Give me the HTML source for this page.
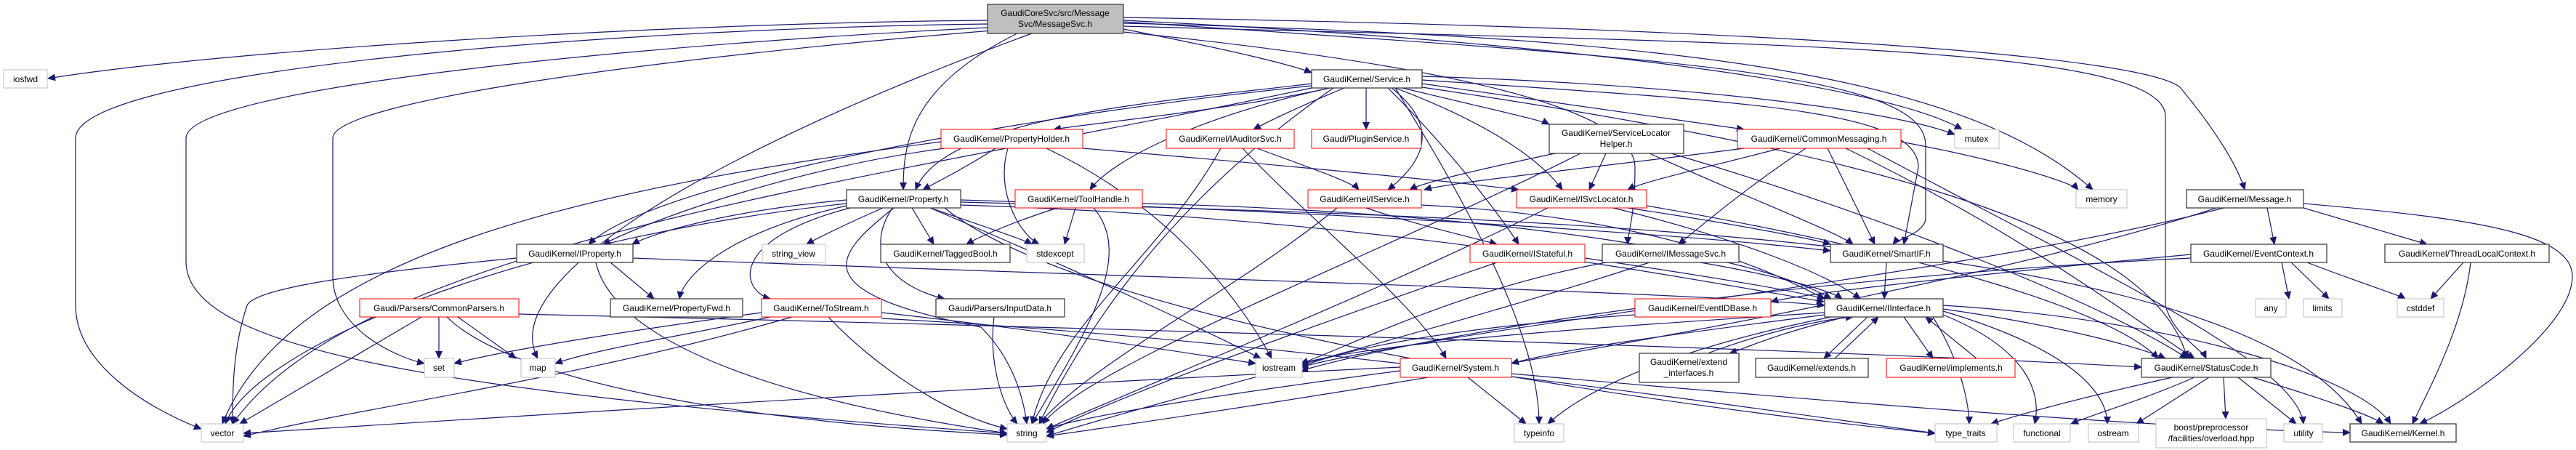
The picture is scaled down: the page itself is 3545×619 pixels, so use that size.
<!DOCTYPE html>
<html><head><meta charset="utf-8"><style>
html,body{margin:0;padding:0;background:#fff;}
svg{display:block}
text{font-family:"Liberation Sans",sans-serif;font-size:12px;fill:#000;text-anchor:middle}
.e{fill:none;stroke:#191970;stroke-width:1.2}
.b{fill:#fff;stroke:#404040;stroke-width:1.3}
.r{fill:#fff;stroke:#ff0000;stroke-width:1}
.g{fill:#fff;stroke:#bfbfbf;stroke-width:1}
</style></head><body>
<svg width="3545" height="619" viewBox="0 0 3545 619" xmlns="http://www.w3.org/2000/svg">
<defs><marker id="a" markerWidth="11" markerHeight="10" refX="10" refY="5" orient="auto" markerUnits="userSpaceOnUse"><path d="M0,0 L11,5 L0,10 z" fill="#191970"/></marker></defs>
<g class="e" marker-end="url(#a)">
<path d="M1359,28 C900,32 300,70 66,108"/>
<path d="M1359,33 C800,40 104,100 104,190 L104,420 C104,500 200,560 277,590"/>
<path d="M1359,38 C900,60 256,120 256,190 L256,360 C256,480 600,540 1386,596"/>
<path d="M1365,42 C900,80 458,140 458,190 L458,380 C458,450 540,490 584,500"/>
<path d="M1420,46 C1000,200 680,380 740,493"/>
<path d="M1400,46 C1250,120 1243,200 1243,261"/>
<path d="M1546,40 C1700,70 1780,90 1805,100"/>
<path d="M1546,28 C2200,60 2600,120 2700,178"/>
<path d="M1546,32 C2300,50 2700,100 2880,261"/>
<path d="M1546,24 C2500,40 2950,80 3000,120 C3050,180 3080,230 3089,261"/>
<path d="M1546,36 C2400,60 2980,60 2980,160 L2980,420 C2990,460 3030,480 3036,493"/>
<path d="M1546,44 C2000,90 2250,150 2250,230 C2250,300 2240,320 2240,336"/>
<path d="M1546,30 C2300,80 2650,100 2650,200 L2650,300 C2650,320 2610,330 2605,336"/>
<path d="M1880,121 L1880,178"/>
<path d="M1830,121 C1700,150 1500,170 1450,178"/>
<path d="M1850,121 C1780,150 1740,170 1725,178"/>
<path d="M1930,121 C2050,150 2120,165 2132,171"/>
<path d="M1957,115 C2200,150 2350,170 2400,178"/>
<path d="M1915,121 C1990,180 1950,230 1910,261"/>
<path d="M1920,121 C2050,170 2120,220 2150,261"/>
<path d="M1910,121 C1990,200 2060,290 2090,336"/>
<path d="M1805,115 C1600,140 1300,160 1260,261"/>
<path d="M1805,118 C1400,160 900,250 810,336"/>
<path d="M1830,121 C1650,160 1530,220 1500,261"/>
<path d="M1957,110 C2400,140 2640,150 2640,230 L2620,336"/>
<path d="M1957,105 C2300,115 2600,150 2690,185"/>
<path d="M1805,121 C1200,250 500,330 320,583"/>
<path d="M1835,121 C1650,250 1520,400 1430,583"/>
<path d="M1957,120 C2500,200 2960,300 3010,493"/>
<path d="M1920,121 C2000,250 2118,450 2118,583"/>
<path d="M1370,204 C1330,230 1290,250 1270,261"/>
<path d="M1300,204 C1100,230 900,300 830,336"/>
<path d="M1295,195 C800,260 400,350 306,583"/>
<path d="M1387,204 C1370,260 1400,320 1430,336"/>
<path d="M1440,204 C1600,280 1700,400 1750,493"/>
<path d="M1490,204 C1800,230 2000,250 2090,261"/>
<path d="M1730,204 C1800,230 1860,250 1870,261"/>
<path d="M1710,204 C1800,300 1950,420 1990,493"/>
<path d="M1680,204 C1600,350 1450,450 1420,583"/>
<path d="M2140,211 C2050,230 1960,250 1940,261"/>
<path d="M2210,211 L2187,261"/>
<path d="M2270,211 C2400,270 2530,320 2550,336"/>
<path d="M2175,211 C1900,350 1500,500 1435,583"/>
<path d="M2300,211 C2600,300 2900,420 3010,493"/>
<path d="M2400,204 C2200,230 2000,250 1960,261"/>
<path d="M2450,204 C2350,230 2260,250 2240,261"/>
<path d="M2485,204 C2400,260 2330,320 2310,336"/>
<path d="M2515,204 L2580,336"/>
<path d="M2616,195 C2750,220 2850,250 2860,261"/>
<path d="M2570,204 C2900,380 3160,500 3170,583"/>
<path d="M2540,204 C2800,330 2950,450 3020,493"/>
<path d="M1165,275 C1000,290 900,320 870,336"/>
<path d="M1215,286 C1160,310 1120,330 1110,336"/>
<path d="M1255,286 L1285,336"/>
<path d="M1280,286 C1350,310 1410,330 1420,336"/>
<path d="M1165,283 C1000,320 940,380 935,411"/>
<path d="M1170,286 C1000,330 1020,400 1060,411"/>
<path d="M1228,286 C1180,360 1250,400 1300,411"/>
<path d="M1230,286 C1150,350 1100,400 1350,450 C1400,500 1410,560 1413,583"/>
<path d="M1280,286 C1500,380 1650,450 1735,493"/>
<path d="M1322,282 C1900,300 2300,380 2510,415"/>
<path d="M1322,275 C1800,290 2300,320 2519,345"/>
<path d="M1165,280 C700,330 350,480 310,583"/>
<path d="M1300,286 C1500,450 2300,560 2663,596"/>
<path d="M1322,278 C2200,300 3100,330 3250,583"/>
<path d="M1455,286 C1380,310 1340,330 1330,336"/>
<path d="M1480,286 L1465,336"/>
<path d="M1505,286 C1560,350 1500,450 1420,583"/>
<path d="M1572,280 C2000,290 2400,340 2520,411"/>
<path d="M840,361 L900,411"/>
<path d="M820,361 C840,450 1000,540 1386,596"/>
<path d="M711,355 C450,380 350,400 340,420 C320,480 320,540 320,583"/>
<path d="M871,355 C1500,380 2300,400 2511,420"/>
<path d="M604,436 L604,493"/>
<path d="M630,436 L710,493"/>
<path d="M580,436 L330,583"/>
<path d="M615,436 C700,520 1000,580 1386,598"/>
<path d="M714,432 C1500,450 2500,480 2947,505"/>
<path d="M1048,430 C900,450 700,480 625,500"/>
<path d="M1060,436 C950,460 820,480 764,500"/>
<path d="M1140,436 C1200,500 1300,570 1386,590"/>
<path d="M1090,436 C800,520 500,560 335,600"/>
<path d="M1213,430 C1400,450 1600,480 1728,500"/>
<path d="M1213,438 C1800,470 2400,560 2663,596"/>
<path d="M1368,436 C1360,500 1380,560 1400,583"/>
<path d="M1880,286 C1950,310 2040,330 2060,336"/>
<path d="M1956,282 C2300,300 2450,380 2511,411"/>
<path d="M1840,286 C1700,400 1500,500 1430,583"/>
<path d="M2220,286 C2400,330 2520,380 2560,411"/>
<path d="M2240,286 C2400,310 2500,330 2519,336"/>
<path d="M2266,283 C2600,340 2900,420 2970,493"/>
<path d="M2130,286 C1900,400 1600,520 1440,590"/>
<path d="M2181,355 C2350,380 2470,400 2511,411"/>
<path d="M2060,361 C1800,450 1550,540 1440,595"/>
<path d="M2340,361 C2450,380 2520,400 2535,411"/>
<path d="M2270,361 C2000,450 1600,550 1440,600"/>
<path d="M2210,361 C2000,400 1850,480 1790,500"/>
<path d="M2596,361 L2593,411"/>
<path d="M2250,433 C2000,450 1850,480 1790,505"/>
<path d="M2511,433 C2300,460 2150,480 2080,500"/>
<path d="M2540,436 C2440,460 2400,480 2380,486"/>
<path d="M2570,436 L2510,493"/>
<path d="M2620,436 L2660,493"/>
<path d="M2660,436 C2700,500 2710,560 2710,583"/>
<path d="M2674,433 C2790,480 2810,540 2800,583"/>
<path d="M2674,428 C2850,480 2900,540 2900,583"/>
<path d="M2674,425 C2850,450 2950,480 2980,493"/>
<path d="M2674,420 C3000,440 3250,520 3290,583"/>
<path d="M2520,436 C2350,470 2200,520 2130,583"/>
<path d="M2511,430 C2200,450 1900,470 1790,500"/>
<path d="M2350,486 C2420,460 2500,440 2550,436"/>
<path d="M2525,493 L2585,436"/>
<path d="M2720,493 L2650,436"/>
<path d="M1927,510 C1700,540 1500,570 1440,590"/>
<path d="M1927,505 C1200,540 600,580 335,596"/>
<path d="M2020,519 L2100,583"/>
<path d="M2080,514 C2600,560 3000,590 3234,595"/>
<path d="M2990,519 C2850,550 2780,570 2740,583"/>
<path d="M3020,519 C2950,550 2880,570 2850,583"/>
<path d="M3040,519 L2940,583"/>
<path d="M3060,519 L3063,576"/>
<path d="M3080,519 L3160,583"/>
<path d="M3100,519 C3200,550 3260,570 3280,583"/>
<path d="M3120,286 L3130,336"/>
<path d="M3170,286 C3250,310 3320,330 3340,336"/>
<path d="M3170,280 C3400,300 3540,320 3540,380 C3540,450 3400,550 3330,583"/>
<path d="M3060,286 C2700,380 2000,450 1790,505"/>
<path d="M3050,286 C2700,400 2000,520 1440,600"/>
<path d="M3140,361 L3150,411"/>
<path d="M3153,361 L3205,411"/>
<path d="M3175,361 C3250,390 3300,405 3310,411"/>
<path d="M3015,355 C2500,380 2000,450 1790,510"/>
<path d="M3015,350 C2800,370 2500,400 2437,415"/>
<path d="M3390,361 L3345,411"/>
<path d="M3400,361 C3390,450 3340,540 3320,583"/>
</g>
<!-- nodes -->
<rect x="1359" y="6" width="187" height="40" fill="#bfbfbf" stroke="#404040" stroke-width="1.3"/>
<text x="1452" y="22">GaudiCoreSvc/src/Message</text><text x="1452" y="37">Svc/MessageSvc.h</text>
<rect class="g" x="5" y="96" width="60" height="25"/><text x="35" y="113">iosfwd</text>
<rect class="g" x="277" y="583" width="58" height="25"/><text x="306" y="600">vector</text>
<rect class="g" x="1386" y="583" width="54" height="25"/><text x="1413" y="600">string</text>
<rect class="g" x="584" y="493" width="41" height="26"/><text x="604" y="510">set</text>
<rect class="g" x="717" y="493" width="47" height="26"/><text x="740" y="510">map</text>
<rect class="b" x="711" y="336" width="160" height="25"/><text x="791" y="353">GaudiKernel/IProperty.h</text>
<rect class="r" x="495" y="411" width="219" height="25"/><text x="604" y="428">Gaudi/Parsers/CommonParsers.h</text>
<rect class="b" x="840" y="411" width="182" height="25"/><text x="931" y="428">GaudiKernel/PropertyFwd.h</text>
<rect class="b" x="1165" y="261" width="157" height="25"/><text x="1243" y="278">GaudiKernel/Property.h</text>
<rect class="r" x="1295" y="178" width="195" height="26"/><text x="1392" y="195">GaudiKernel/PropertyHolder.h</text>
<rect class="r" x="1605" y="178" width="176" height="26"/><text x="1693" y="195">GaudiKernel/IAuditorSvc.h</text>
<rect class="r" x="1397" y="261" width="175" height="25"/><text x="1484" y="278">GaudiKernel/ToolHandle.h</text>
<rect class="g" x="1049" y="336" width="87" height="25"/><text x="1092" y="353">string_view</text>
<rect class="b" x="1212" y="336" width="178" height="25"/><text x="1301" y="353">GaudiKernel/TaggedBool.h</text>
<rect class="g" x="1413" y="336" width="79" height="25"/><text x="1452" y="353">stdexcept</text>
<rect class="r" x="1048" y="411" width="165" height="25"/><text x="1130" y="428">GaudiKernel/ToStream.h</text>
<rect class="b" x="1288" y="411" width="177" height="25"/><text x="1376" y="428">Gaudi/Parsers/InputData.h</text>
<rect class="g" x="1728" y="493" width="64" height="26"/><text x="1760" y="510">iostream</text>
<rect class="b" x="1805" y="96" width="152" height="25"/><text x="1881" y="113">GaudiKernel/Service.h</text>
<rect class="r" x="1805" y="178" width="151" height="26"/><text x="1880" y="195">Gaudi/PluginService.h</text>
<rect class="b" x="2132" y="171" width="185" height="40"/><text x="2224" y="187">GaudiKernel/ServiceLocator</text><text x="2224" y="202">Helper.h</text>
<rect class="r" x="2391" y="178" width="225" height="26"/><text x="2503" y="195">GaudiKernel/CommonMessaging.h</text>
<rect class="g" x="2690" y="178" width="61" height="26"/><text x="2720" y="195">mutex</text>
<rect class="r" x="1800" y="261" width="156" height="25"/><text x="1878" y="278">GaudiKernel/IService.h</text>
<rect class="r" x="2087" y="261" width="179" height="25"/><text x="2176" y="278">GaudiKernel/ISvcLocator.h</text>
<rect class="r" x="2023" y="336" width="158" height="25"/><text x="2102" y="353">GaudiKernel/IStateful.h</text>
<rect class="b" x="2205" y="336" width="188" height="25"/><text x="2299" y="353">GaudiKernel/IMessageSvc.h</text>
<rect class="b" x="2519" y="336" width="155" height="25"/><text x="2596" y="353">GaudiKernel/SmartIF.h</text>
<rect class="r" x="2250" y="411" width="187" height="25"/><text x="2343" y="428">GaudiKernel/EventIDBase.h</text>
<rect class="b" x="2511" y="411" width="163" height="25"/><text x="2592" y="428">GaudiKernel/IInterface.h</text>
<rect class="r" x="1927" y="493" width="153" height="26"/><text x="2003" y="510">GaudiKernel/System.h</text>
<rect class="b" x="2256" y="486" width="137" height="40"/><text x="2324" y="502">GaudiKernel/extend</text><text x="2324" y="517">_interfaces.h</text>
<rect class="b" x="2416" y="493" width="155" height="26"/><text x="2493" y="510">GaudiKernel/extends.h</text>
<rect class="r" x="2596" y="493" width="177" height="26"/><text x="2685" y="510">GaudiKernel/implements.h</text>
<rect class="g" x="2084" y="583" width="68" height="25"/><text x="2118" y="600">typeinfo</text>
<rect class="g" x="2663" y="583" width="85" height="25"/><text x="2705" y="600">type_traits</text>
<rect class="g" x="2857" y="261" width="70" height="25"/><text x="2892" y="278">memory</text>
<rect class="b" x="3009" y="261" width="161" height="25"/><text x="3089" y="278">GaudiKernel/Message.h</text>
<rect class="b" x="3015" y="336" width="187" height="25"/><text x="3108" y="353">GaudiKernel/EventContext.h</text>
<rect class="b" x="3282" y="336" width="226" height="25"/><text x="3395" y="353">GaudiKernel/ThreadLocalContext.h</text>
<rect class="g" x="3104" y="411" width="42" height="25"/><text x="3125" y="428">any</text>
<rect class="g" x="3170" y="411" width="53" height="25"/><text x="3196" y="428">limits</text>
<rect class="g" x="3299" y="411" width="64" height="25"/><text x="3331" y="428">cstddef</text>
<rect class="b" x="2947" y="493" width="178" height="26"/><text x="3036" y="510">GaudiKernel/StatusCode.h</text>
<rect class="g" x="2771" y="583" width="78" height="25"/><text x="2810" y="600">functional</text>
<rect class="g" x="2874" y="583" width="69" height="25"/><text x="2908" y="600">ostream</text>
<rect class="g" x="2967" y="576" width="152" height="40"/><text x="3043" y="592">boost/preprocessor</text><text x="3043" y="607">/facilities/overload.hpp</text>
<rect class="g" x="3143" y="583" width="53" height="25"/><text x="3170" y="600">utility</text>
<rect class="b" x="3234" y="583" width="146" height="25"/><text x="3307" y="600">GaudiKernel/Kernel.h</text>
</svg>
</body></html>
